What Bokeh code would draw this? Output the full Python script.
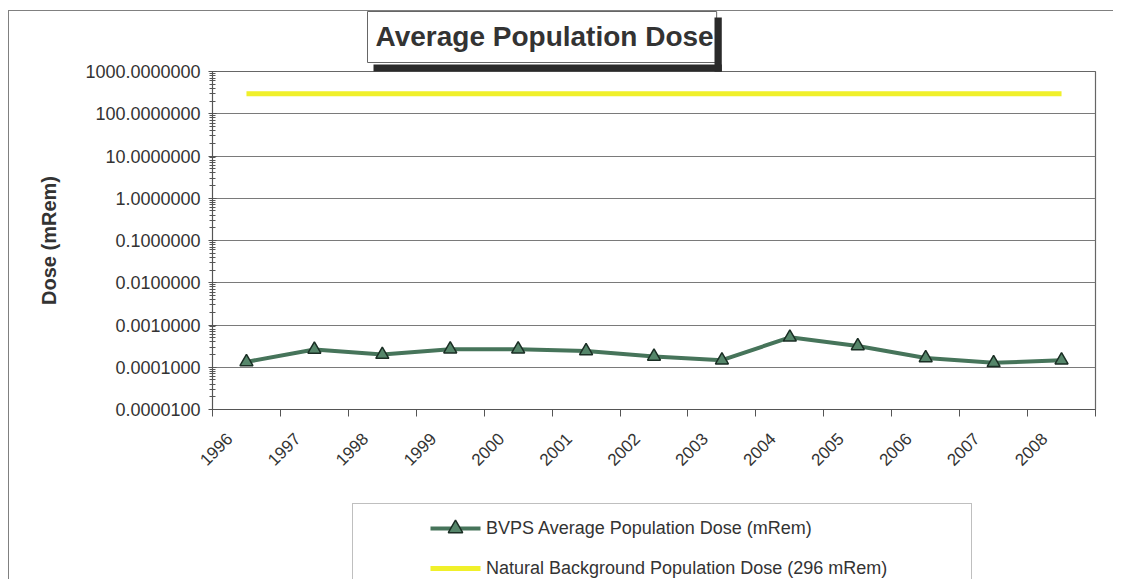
from math import pi
from bokeh.plotting import figure
from bokeh.layouts import column
from bokeh.models import (Range1d, FixedTicker, PrintfTickFormatter, CustomJSTickFormatter,
                          Legend, LegendItem, Label)
from bokeh.embed import file_html
from bokeh.resources import INLINE

# ---- data ----
years = ["1996", "1997", "1998", "1999", "2000", "2001", "2002",
         "2003", "2004", "2005", "2006", "2007", "2008"]
bvps_dose = [1.34e-4, 2.64e-4, 2.00e-4, 2.68e-4, 2.68e-4, 2.44e-4, 1.80e-4,
             1.47e-4, 5.10e-4, 3.20e-4, 1.66e-4, 1.27e-4, 1.47e-4]
natural_dose = [296, 296, 296, 296, 296, 296, 296, 296, 296, 296, 296, 296, 296]
y_ticks = [1e-5, 1e-4, 1e-3, 1e-2, 1e-1, 1e0, 1e1, 1e2, 1e3]
title_text = "Average Population Dose"
y_label = "Dose (mRem)"
bvps_label = "BVPS Average Population Dose (mRem)"
natural_label = "Natural Background Population Dose (296 mRem)"

FONT = "Liberation Sans"
TXT = "#333333"
GRAY = "#808080"
SHADOW = "#2a2a2a"
GREEN_LINE = "#46745a"
GREEN_FILL = "#55866a"
GREEN_EDGE = "#1a2e24"
YELLOW = "#f0f02a"

# canvas origin inside the outer chart border (border drawn with CSS)
OX, OY = 9, 11
SPLIT = 495      # page row where the chart canvas ends and the legend canvas begins
FRAME_L = 212    # page column of the plot frame's left edge (shared by both canvases)

x_pos = [i + 0.5 for i in range(len(years))]
x_bounds = list(range(len(years) + 1))
minor_y = [m * 10.0 ** e for e in range(-5, 3) for m in range(2, 10)]

chart_h = SPLIT - OY
p = figure(width=1104, height=chart_h, output_backend="svg", toolbar_location=None,
           x_range=Range1d(0, len(years)), y_range=Range1d(1e-5, 1e3),
           y_axis_type="log",
           min_border_left=FRAME_L - OX, min_border_right=18, min_border_top=71 - OY,
           min_border_bottom=chart_h - (409 - OY))
p.background_fill_color = "white"
p.border_fill_color = "white"
p.outline_line_color = "#666666"
p.outline_line_width = 1.2

# x axis (ticks between categories, labels at category centres)
xa = p.xaxis[0]
xa.ticker = FixedTicker(ticks=x_pos, minor_ticks=x_bounds)
xa.formatter = CustomJSTickFormatter(
    args=dict(yrs=years),
    code="const s = yrs[Math.floor(tick)]; return s ? s + '\\u00a0\\u00a0\\u00a0\\u00a0\\u00a0' : '';")
xa.major_tick_line_color = None
xa.minor_tick_line_color = "#555555"
xa.minor_tick_out = 7
xa.minor_tick_in = 0
xa.axis_line_color = "#555555"
xa.major_label_orientation = pi / 4
xa.major_label_text_font = FONT
xa.major_label_text_font_size = "17px"
xa.major_label_text_color = TXT
xa.major_label_standoff = 3

# y axis
ya = p.yaxis[0]
ya.ticker = FixedTicker(ticks=y_ticks, minor_ticks=minor_y)
ya.formatter = PrintfTickFormatter(format="%.7f")
ya.major_tick_in = 4
ya.major_tick_out = 4
ya.minor_tick_in = 3
ya.minor_tick_out = 3
ya.major_tick_line_color = "#555555"
ya.minor_tick_line_color = "#555555"
ya.axis_line_color = "#555555"
ya.major_label_text_font = FONT
ya.major_label_text_font_size = "18px"
ya.major_label_text_color = TXT
ya.major_label_standoff = 8
ya.axis_label = y_label
ya.axis_label_text_font = FONT
ya.axis_label_text_font_size = "20px"
ya.axis_label_text_font_style = "bold"
ya.axis_label_text_color = TXT
ya.axis_label_standoff = 22

p.xgrid.visible = False
p.ygrid.grid_line_color = "#7a7a7a"
p.ygrid.grid_line_width = 1.2

# series
r_nat = p.line(x_pos, natural_dose, line_color=YELLOW, line_width=5)
r_line = p.line(x_pos, bvps_dose, line_color=GREEN_LINE, line_width=4)
r_pts = p.scatter(x_pos, bvps_dose, marker="triangle", size=13,
                  fill_color=GREEN_FILL, line_color=GREEN_EDGE, line_width=1.5)

# title box (padding order: left, right, top, bottom)
box = Label(x=367 - OX, y=0, x_units="canvas", y_units="canvas", text=title_text,
            text_font=FONT, text_font_size="28px", text_font_style="bold",
            text_color=TXT, text_align="left", text_baseline="top",
            padding=(8, 3, 9, 11), background_fill_color="white",
            border_line_color="#666666")
p.add_layout(box, "above")
# title shadow: bottom and right strips
p.add_layout(Label(x=373 - OX, y=64 - OY, x_units="canvas", y_units="canvas", text=" ",
                   text_font_size="1px", text_align="left", text_baseline="top",
                   padding=(0, 348, 6, 0), background_fill_color=SHADOW,
                   border_line_color=None), "above")
p.add_layout(Label(x=714 - OX, y=17 - OY, x_units="canvas", y_units="canvas", text=" ",
                   text_font_size="1px", text_align="left", text_baseline="top",
                   padding=(0, 7, 53, 0), background_fill_color=SHADOW,
                   border_line_color=None), "right")

# ---- legend canvas below the chart ----
leg_h = 579 - SPLIT
q = figure(width=1104, height=leg_h, output_backend="svg", toolbar_location=None,
           x_range=Range1d(0, 1), y_range=Range1d(-10, -9),
           x_axis_location=None, y_axis_location=None,
           min_border_left=0, min_border_right=0, min_border_top=0, min_border_bottom=0)
q.outline_line_color = None
q.grid.visible = False
q.background_fill_color = "white"
q.border_fill_color = "white"

# legend-only renderers (their data lie outside this canvas's y range)
LEG_DASH = "0 4 50 2000"  # line sample inside the glyph box
leg_line = q.line(x_pos, bvps_dose, line_color=GREEN_LINE, line_width=4, line_dash=LEG_DASH)
leg_pts = q.scatter(x_pos, bvps_dose, marker="triangle", fill_color=GREEN_FILL,
                    line_color=GREEN_EDGE, line_width=1.5)
leg_nat = q.line(x_pos, natural_dose, line_color=YELLOW, line_width=5, line_dash=LEG_DASH)
leg_none = q.line(x_pos, natural_dose, line_alpha=0)

# legend frame (box only)
FRAME_H = 90
legend_frame = Legend(items=[LegendItem(label=" ", renderers=[leg_none])],
                      location=(352 - FRAME_L, 579 - FRAME_H - 505),
                      glyph_width=20, glyph_height=FRAME_H, label_height=FRAME_H,
                      label_width=598, label_standoff=0, spacing=0, padding=0, margin=0,
                      border_line_color=GRAY, border_line_width=1.2,
                      background_fill_color="white", label_text_font_size="1px")
q.add_layout(legend_frame)

# legend entries
ENTRY_H = 76
legend = Legend(items=[LegendItem(label=bvps_label, renderers=[leg_line, leg_pts]),
                       LegendItem(label=natural_label, renderers=[leg_nat])],
                location=(426 - FRAME_L, 579 - (510 + ENTRY_H)),
                glyph_width=58, glyph_height=36, label_height=36,
                spacing=4, padding=0, margin=0, label_standoff=2,
                border_line_color=None, background_fill_alpha=0,
                label_text_font=FONT, label_text_font_size="18px", label_text_color=TXT)
q.add_layout(legend)

layout = column(p, q, spacing=0)
layout.styles = {"border-left": "1px solid #808080", "border-top": "1px solid #808080",
                 "margin-left": "8px", "margin-top": "10px"}

open("out.html", "w").write(file_html(layout, INLINE))
